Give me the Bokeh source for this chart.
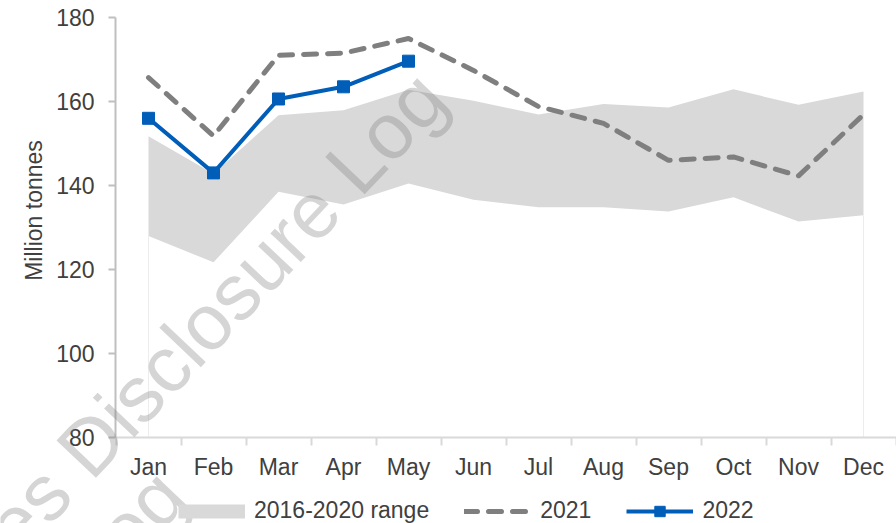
import math
from bokeh.plotting import figure
from bokeh.models import FixedTicker, Label, Legend, LegendItem
from bokeh.embed import file_html
from bokeh.resources import INLINE

months = ["Jan", "Feb", "Mar", "Apr", "May", "Jun", "Jul", "Aug", "Sep", "Oct", "Nov", "Dec"]
range_low = [128.0, 121.7, 138.5, 135.5, 140.5, 136.6, 134.8, 134.8, 133.8, 137.2, 131.4, 132.9]
range_high = [151.7, 142.8, 156.7, 157.9, 162.8, 160.2, 156.9, 159.4, 158.6, 162.9, 159.2, 162.4]
y2021 = [165.7, 151.8, 171.0, 171.5, 175.0, 167.4, 158.8, 154.8, 146.0, 146.8, 142.3, 156.9]
y2022 = [156.0, 143.0, 160.6, 163.5, 169.6]
y_ticks = [80, 100, 120, 140, 160, 180]

FONT = "Liberation Sans"
TXT = "#404040"
FS = "23px"

W, H = 896, 523
idx = list(range(len(months)))

PXX = 65.0
PXY = 4.2
X0 = 148.0
Y180 = 17.0
x_start = -X0 / PXX
x_end = (W - X0) / PXX
y_end = 180 + Y180 / PXY
y_start = 180 - (H - Y180) / PXY
y_axis_x = (115 - X0) / PXX

p = figure(width=W, height=H, x_range=(x_start, x_end), y_range=(y_start, y_end),
           output_backend="svg", toolbar_location=None,
           min_border_left=0, min_border_right=0, min_border_top=0, min_border_bottom=0)
p.outline_line_color = None
p.xgrid.grid_line_color = None
p.ygrid.grid_line_color = None
p.background_fill_color = "white"
p.border_fill_color = "white"

band = p.varea(x=idx, y1=range_low, y2=range_high, fill_color="#d9d9d9")
p.segment(x0=[idx[0], idx[-1]], y0=[y_ticks[0]] * 2, x1=[idx[0], idx[-1]],
          y1=[range_low[0], range_low[-1]], line_color="#ededed", line_width=1)

l21 = p.line(x=idx, y=y2021, line_color="#7f7f7f", line_width=5, line_dash="13 11",
             line_cap="round", line_join="round")
l22 = p.line(x=idx[:len(y2022)], y=y2022, line_color="#005EB8", line_width=4)
m22 = p.scatter(x=idx[:len(y2022)], y=y2022, marker="square", size=12,
                fill_color="#005EB8", line_color="#005EB8")

# single-point line: draws nothing in the plot, gives the legend its thick grey bar
bar = p.line(x=idx[:1], y=range_low[:1], line_color="#d9d9d9", line_width=14, line_cap="butt")

xa = p.xaxis[0]
xa.fixed_location = y_ticks[0]
xa.bounds = (y_axis_x, x_end)
xa.ticker = FixedTicker(ticks=idx, minor_ticks=[i - 0.5 for i in range(13)])
xa.major_label_overrides = {i: m for i, m in enumerate(months)}
xa.major_tick_out = 0
xa.major_tick_in = 0
xa.minor_tick_out = 8
xa.minor_tick_in = 0
xa.minor_tick_line_color = "#d9d9d9"
xa.minor_tick_line_width = 2
xa.axis_line_color = "#d9d9d9"
xa.axis_line_width = 2
xa.major_label_standoff = 8
xa.major_label_text_font = FONT
xa.major_label_text_font_size = FS
xa.major_label_text_color = TXT

ya = p.yaxis[0]
ya.fixed_location = y_axis_x
ya.bounds = (y_ticks[0], y_ticks[-1])
ya.ticker = FixedTicker(ticks=y_ticks, minor_ticks=[])
ya.major_tick_out = 7
ya.major_tick_in = 0
ya.major_tick_line_color = "#bfbfbf"
ya.major_tick_line_width = 2
ya.axis_line_color = "#bfbfbf"
ya.axis_line_width = 2
ya.major_label_standoff = 14
ya.major_label_text_font = FONT
ya.major_label_text_font_size = FS
ya.major_label_text_color = TXT

def sx(X):
    return X

def sy(Y):
    return H - Y

p.add_layout(Label(x=sx(33), y=sy(210), x_units="screen", y_units="screen", text="Million tonnes",
                   angle=math.pi / 2, text_align="center", text_baseline="middle",
                   text_font=FONT, text_font_size=FS, text_color=TXT))

legend = Legend(items=[LegendItem(label="2016-2020 range", renderers=[bar]),
                       LegendItem(label="2021", renderers=[l21]),
                       LegendItem(label="2022", renderers=[l22, m22])],
                orientation="horizontal", location=(178, -1),
                glyph_width=67, glyph_height=26, label_standoff=9, spacing=35,
                padding=0, margin=0, border_line_color=None, background_fill_alpha=0,
                label_text_font=FONT, label_text_font_size=FS, label_text_color=TXT)
p.add_layout(legend, "center")

# watermark
ang = math.radians(46.5)
WFS = 79
WM = dict(x_units="screen", y_units="screen", angle=ang, text_baseline="alphabetic",
          text_font=FONT, text_font_size=f"{WFS}px", text_color="#808080", text_alpha=0.33)
bx, by = 71, 463
p.add_layout(Label(x=sx(bx), y=sy(by), text="Disclosure Log", text_align="left", **WM))
gap = 0.278 * WFS
p.add_layout(Label(x=sx(bx - gap * math.cos(ang)), y=sy(by + gap * math.sin(ang)),
                   text="Resources", text_align="right", **WM))
p.add_layout(Label(x=sx(170), y=sy(482), text="Disclosure Log", text_align="right", **WM))

open("out.html", "w").write(file_html(p, INLINE))
